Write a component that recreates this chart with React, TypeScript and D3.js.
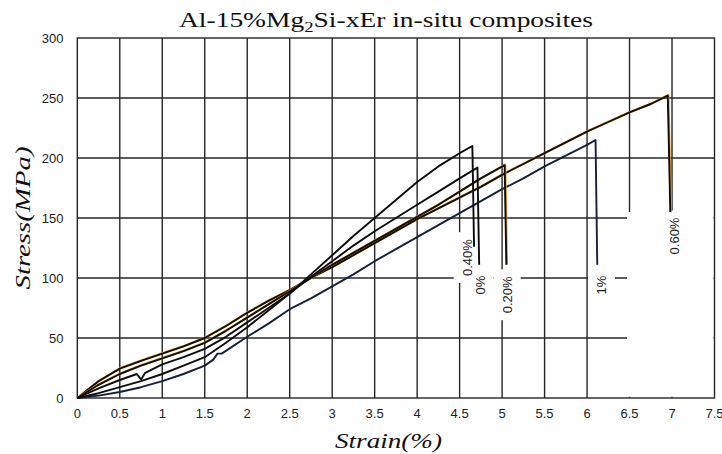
import React from "react";
import * as d3 from "d3";

// ---- data ----
const xTicks = [0, 0.5, 1, 1.5, 2, 2.5, 3, 3.5, 4, 4.5, 5, 5.5, 6, 6.5, 7, 7.5];
const yTicks = [0, 50, 100, 150, 200, 250, 300];

const er0Strain = [0, 0.25, 0.5, 0.7, 0.75, 0.8, 1.0, 1.25, 1.5, 1.75, 2.0, 2.25, 2.5, 2.75, 3.0, 3.25, 3.5, 3.75, 4.0, 4.25, 4.5, 4.71, 4.73];
const er0Stress = [0, 8, 15, 20, 15.5, 21, 28, 34, 41, 51, 63, 75, 87, 101, 114, 127, 139, 150, 161, 172, 183, 192, 111];

const er020Strain = [0, 0.25, 0.5, 0.75, 1.0, 1.25, 1.5, 1.75, 2.0, 2.25, 2.5, 2.75, 3.0, 3.25, 3.5, 3.75, 4.0, 4.25, 4.5, 4.75, 5.03, 5.05];
const er020Stress = [0, 11, 20, 27, 33, 39, 46, 56, 67, 78, 89, 100, 111, 121, 131, 141, 151, 161, 172, 183, 194, 111];

const er040Strain = [0, 0.25, 0.5, 0.75, 1.0, 1.25, 1.5, 1.75, 2.0, 2.25, 2.5, 2.75, 3.0, 3.25, 3.5, 3.75, 4.0, 4.25, 4.5, 4.65, 4.67];
const er040Stress = [0, 4, 9, 14, 20, 27, 34, 46, 59, 73, 87, 103, 119, 135, 150, 165, 180, 193, 204, 210, 126];

const er060Strain = [0, 0.25, 0.5, 0.75, 1.0, 1.25, 1.5, 1.75, 2.0, 2.25, 2.5, 2.75, 3.0, 3.25, 3.5, 3.75, 4.0, 4.25, 4.5, 4.75, 5.0, 5.25, 5.5, 5.75, 6.0, 6.25, 6.5, 6.75, 6.95, 6.98];
const er060Stress = [0, 14, 24.5, 31, 37, 43, 50, 60, 71, 81, 90, 100, 109, 119, 129, 139, 149, 158, 167, 176, 186, 195, 204, 213, 222, 230, 238, 245, 252, 155];

const er1Strain = [0, 0.25, 0.5, 0.75, 1.0, 1.25, 1.5, 1.6, 1.65, 1.7, 2.0, 2.25, 2.5, 2.75, 3.0, 3.25, 3.5, 3.75, 4.0, 4.25, 4.5, 4.75, 5.0, 5.25, 5.5, 5.75, 6.0, 6.1, 6.12];
const er1Stress = [0, 2, 5, 9, 14, 20, 27, 32, 37, 37, 51, 62, 74, 83, 93, 103, 114, 124, 134, 144, 154, 164, 174, 183, 193, 202, 211, 215, 111];

const labelNames = ["0.40%", "0%", "0.20%", "1%", "0.60%"];
const labelStrain = [4.59, 4.74, 5.06, 6.17, 7.03];
const labelStress = [117, 94, 86, 94, 135];

// ---- layout ----
const W = 722;
const H = 454;
const x = d3.scaleLinear().domain([0, 7.5]).range([77.3, 714.5]);
const y = d3.scaleLinear().domain([0, 300]).range([398, 38]);

const GRID = "#262626";
const sansFont = "'Liberation Sans', Arial, sans-serif";
const serifFont = "'Liberation Serif', 'Times New Roman', serif";

function zip(xs: number[], ys: number[]): [number, number][] {
  return xs.map((v, i) => [v, ys[i]] as [number, number]);
}

const line = d3
  .line<[number, number]>()
  .x((d) => x(d[0]))
  .y((d) => y(d[1]))
  .curve(d3.curveLinear);

function textLen(s: string, fs: number) {
  let w = 0;
  for (const c of s) {
    if (c === ".") w += 0.278;
    else if (c === "%") w += 0.889;
    else w += 0.556;
  }
  return w * fs;
}

export default function App() {
  const series = [
    { pts: zip(er1Strain, er1Stress), color: "#16203a", orange: false },
    { pts: zip(er060Strain, er060Stress), color: "#120e06", orange: true },
    { pts: zip(er020Strain, er020Stress), color: "#120e06", orange: true },
    { pts: zip(er0Strain, er0Stress), color: "#0d0d0d", orange: false },
    { pts: zip(er040Strain, er040Stress), color: "#0d0d0d", orange: false },
  ];

  const gx = xTicks.filter((t) => t > 0 && t < 7.5);
  const gy = yTicks.filter((t) => t > 0 && t < 300);

  const labelFs = 13;
  const pad = 7;

  return (
    <svg
      width={W}
      height={H}
      viewBox={`0 0 ${W} ${H}`}
      style={{ position: "absolute", left: 0, top: 0, background: "#fff" }}
    >
      <rect x={0} y={0} width={W} height={H} fill="#fff" />
      {/* title */}
      <text
        x={386}
        y={27}
        textAnchor="middle"
        fontFamily={serifFont}
        fontSize={22}
        fill="#111"
        textLength={414}
        lengthAdjust="spacingAndGlyphs"
      >
        Al-15%Mg<tspan fontSize={15} dy={5}>2</tspan>
        <tspan dy={-5}>Si-xEr in-situ composites</tspan>
      </text>

      {/* grid */}
      <g stroke={GRID} strokeWidth={1.4}>
        {gx.map((t) => (
          <line key={"gx" + t} x1={x(t)} x2={x(t)} y1={y(0)} y2={y(300)} />
        ))}
        {gy.map((t) => (
          <line key={"gy" + t} x1={x(0)} x2={x(7.5)} y1={y(t)} y2={y(t)} />
        ))}
      </g>

      {/* white legend-like area covering lower right grid */}
      <rect
        x={x(6.47)}
        y={y(155)}
        width={x(7.49) - x(6.47)}
        height={y(1) - y(155)}
        fill="#fff"
      />

      {/* label backgrounds */}
      {labelNames.map((n, i) => {
        const w = textLen(n, labelFs) + 2 * pad;
        const h = labelFs + 2 * pad;
        return (
          <rect
            key={"lb" + n}
            transform={`translate(${x(labelStrain[i])},${y(labelStress[i])}) rotate(-90)`}
            x={-w / 2}
            y={-h / 2}
            width={w}
            height={h}
            fill="#fff"
          />
        );
      })}

      {/* border */}
      <rect
        x={x(0)}
        y={y(300)}
        width={x(7.5) - x(0)}
        height={y(0) - y(300)}
        fill="none"
        stroke={GRID}
        strokeWidth={1.4}
      />

      {/* curves */}
      {series.map((s, i) => (
        <g key={"s" + i}>
          {s.orange && (
            <path
              d={line(s.pts) || ""}
              fill="none"
              stroke="#e0a040"
              strokeWidth={2.2}
              transform="translate(0.6,-0.5)"
              strokeLinejoin="round"
            />
          )}
          <path
            d={line(s.pts) || ""}
            fill="none"
            stroke={s.color}
            strokeWidth={1.9}
            strokeLinejoin="round"
          />
        </g>
      ))}

      {/* labels */}
      {labelNames.map((n, i) => (
        <text
          key={"lt" + n}
          transform={`translate(${x(labelStrain[i])},${y(labelStress[i])}) rotate(-90)`}
          textAnchor="middle"
          dominantBaseline="central"
          fontFamily={sansFont}
          fontSize={labelFs}
          fill="#222"
        >
          {n}
        </text>
      ))}

      {/* y tick labels */}
      {yTicks.map((t) => (
        <text
          key={"yt" + t}
          x={63.5}
          y={y(t)}
          dy="0.35em"
          textAnchor="end"
          fontFamily={sansFont}
          fontSize={13}
          fill="#222"
        >
          {t}
        </text>
      ))}

      {/* x tick labels */}
      {xTicks.map((t) => (
        <text
          key={"xt" + t}
          x={x(t)}
          y={418}
          textAnchor="middle"
          fontFamily={sansFont}
          fontSize={13}
          fill="#222"
        >
          {t}
        </text>
      ))}

      {/* axis titles */}
      <text
        x={388.5}
        y={448}
        textAnchor="middle"
        fontFamily={serifFont}
        fontStyle="italic"
        fontSize={22}
        fill="#111"
        textLength={107}
        lengthAdjust="spacingAndGlyphs"
      >
        Strain(%)
      </text>
      <text
        transform={`translate(30,218) rotate(-90)`}
        textAnchor="middle"
        fontFamily={serifFont}
        fontStyle="italic"
        fontSize={22}
        fill="#111"
        textLength={143}
        lengthAdjust="spacingAndGlyphs"
      >
        Stress(MPa)
      </text>
    </svg>
  );
}
